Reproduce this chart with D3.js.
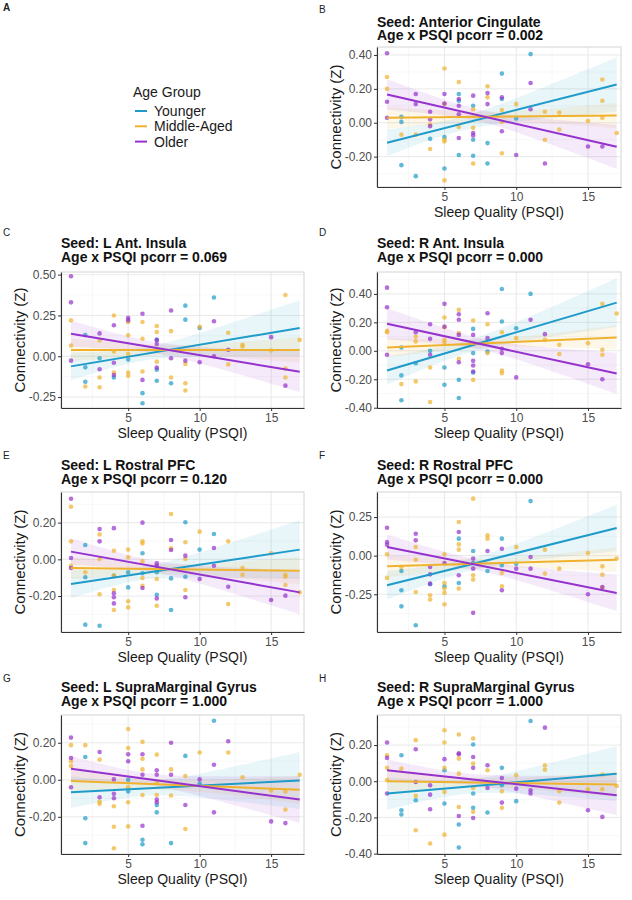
<!DOCTYPE html>
<html>
<head>
<meta charset="utf-8">
<script src="https://cdn.jsdelivr.net/npm/d3@7"></script>
<style>
body { margin: 0; background: #fff; }
svg { display: block; font-family: "Liberation Sans", Arial, sans-serif; }
</style>
</head>
<body>
<script>
var groups = ["Younger", "Middle-Aged", "Older"];
var groupColors = ["#1e9bc9", "#efb22e", "#9531cc"];
var xTicks = [5, 10, 15];
var xDomain = [0.3, 17.3];

// B: Anterior Cingulate
var bYounger = [[2,0.035],[2,0.005],[2,-0.25],[3,-0.315],[4,-0.095],[5,-0.085],[5,-0.27],[6,0.17],[6,0.13],[6,-0.19],[7,0.10],[7,-0.10],[7,-0.195],[8,-0.12],[8,-0.24],[9,0.29],[9,0.14],[10,0.025],[11,0.405]];
var bMiddle = [[1,0.27],[1,0.20],[2,-0.07],[3,-0.07],[4,-0.155],[4,-0.01],[5,0.32],[5,0.11],[5,-0.10],[5,-0.11],[5,-0.34],[6,0.24],[6,-0.025],[7,-0.03],[7,-0.24],[7,0.08],[8,0.215],[8,0.15],[9,0.075],[9,0.005],[9,-0.18],[10,0.11],[12,0.065],[12,-0.10],[13,0.06],[13,-0.04],[15,0.01],[16,0.255],[16,0.13],[16,0.03],[17,-0.06]];
var bOlder = [[1,0.41],[1,0.124],[1,0.03],[3,0.17],[3,0.11],[4,0.065],[4,0.02],[4,-0.02],[5,0.17],[5,0.114],[6,0.14],[6,0.1],[6,0.05],[6,-0.09],[7,0.16],[7,-0.06],[7,-0.075],[8,0.11],[8,0.175],[9,0.15],[9,-0.05],[10,-0.19],[11,0.235],[11,0.08],[12,-0.24],[15,-0.14],[16,-0.14]];
var bFit = [[-0.118,0.226],[0.03,0.043],[0.167,-0.142]];
var bBand = [[0.079,0.16,0.04],[0.065,0.075,0.03],[0.09,0.13,0.035]];
var bTicks = [-0.2,0,0.2,0.4];

// C: L Ant. Insula
var cYounger = [[2,0.13],[2,-0.068],[2,-0.156],[3,-0.012],[4,-0.13],[5,-0.02],[6,-0.226],[6,-0.288],[7,0.10],[7,-0.082],[7,-0.15],[8,-0.165],[9,0.31],[9,0.224],[10,0.173],[11,0.36]];
var cMiddle = [[1,0.22],[1,0.066],[2,-0.185],[3,0.097],[3,-0.13],[3,-0.19],[4,0.25],[4,0.029],[4,-0.1],[5,0.21],[5,0.128],[5,0.014],[5,-0.1],[5,-0.12],[6,0.21],[6,0.107],[6,-0.093],[7,0.185],[7,0.148],[7,-0.033],[8,0.154],[8,-0.13],[9,-0.047],[9,-0.165],[9,-0.21],[10,0.18],[12,0.144],[12,-0.05],[13,0.07],[13,0.06],[15,0.035],[16,0.375],[16,-0.075],[16,-0.13],[17,0.1]];
var cOlder = [[1,0.49],[1,0.33],[1,-0.027],[3,0.14],[3,-0.08],[4,0.19],[4,-0.04],[4,-0.115],[5,0.235],[5,0.22],[6,0.26],[6,-0.145],[7,0.1],[7,0.075],[7,-0.07],[8,0.28],[8,-0.012],[9,-0.027],[10,-0.037],[11,0.214],[11,0.0],[12,0.04],[15,0.117],[16,-0.18]];
var cFit = [[-0.062,0.173],[0.039,0.039],[0.138,-0.095]];
var cBand = [[0.085,0.17,0.04],[0.07,0.08,0.03],[0.08,0.125,0.035]];
var cTicks = [-0.25,0,0.25,0.5];

// D: R Ant. Insula
var dYounger = [[2,0.023],[2,-0.173],[2,-0.348],[3,-0.087],[4,0.0],[5,-0.117],[5,-0.239],[6,-0.204],[6,-0.332],[7,0.154],[7,-0.016],[7,-0.152],[8,-0.005],[9,0.435],[9,0.206],[10,0.159],[11,0.40]];
var dMiddle = [[1,0.14],[1,0.13],[2,-0.234],[3,0.10],[3,0.066],[3,-0.215],[4,-0.117],[4,-0.36],[5,0.234],[5,0.166],[5,0.077],[5,0.058],[6,0.288],[6,0.124],[6,-0.056],[7,0.213],[7,-0.204],[8,0.187],[8,-0.016],[9,0.131],[9,-0.138],[9,-0.157],[10,0.089],[12,0.077],[13,0.042],[13,-0.023],[15,0.054],[16,0.33],[16,0.007],[16,-0.028],[17,0.262]];
var dOlder = [[1,0.444],[1,0.306],[1,-0.028],[3,0.13],[4,0.187],[4,0.084],[4,-0.028],[5,0.33],[5,0.17],[6,0.257],[6,0.218],[6,0.112],[6,-0.08],[7,0.112],[7,-0.07],[7,-0.103],[7,-0.145],[8,0.264],[8,0.089],[9,0.014],[9,-0.016],[10,-0.187],[11,0.218],[12,0.117],[15,-0.094],[16,-0.2]];
var dFit = [[-0.138,0.339],[0.023,0.094],[0.19,-0.159]];
var dBand = [[0.1,0.172,0.045],[0.07,0.085,0.03],[0.11,0.146,0.04]];
var dTicks = [-0.4,-0.2,0,0.2,0.4];

// E: L Rostral PFC
var eYounger = [[2,0.078],[2,-0.098],[2,-0.356],[3,-0.362],[4,-0.09],[5,-0.07],[5,-0.153],[6,0.033],[6,-0.076],[7,-0.07],[7,-0.193],[8,-0.104],[8,-0.276],[9,0.202],[9,-0.095],[10,0.053],[11,0.138]];
var eMiddle = [[1,0.287],[1,0.098],[1,-0.035],[2,-0.07],[3,0.135],[3,0.002],[3,-0.19],[4,0.047],[4,-0.089],[4,-0.167],[4,-0.276],[5,0.053],[5,0.011],[5,-0.229],[5,-0.262],[6,0.098],[6,0.087],[6,-0.011],[6,-0.102],[6,-0.144],[7,-0.107],[7,-0.253],[8,0.247],[8,0.06],[9,0.093],[9,0.002],[9,-0.167],[10,0.151],[12,0.098],[12,-0.244],[13,-0.047],[13,-0.084],[15,0.033],[16,-0.084],[16,-0.095],[16,-0.14],[17,-0.18]];
var eOlder = [[1,0.33],[1,0.007],[1,-0.047],[3,0.165],[3,0.098],[4,0.17],[4,-0.185],[4,-0.207],[4,-0.24],[6,0.2],[6,-0.156],[7,-0.022],[7,-0.035],[7,-0.213],[8,0.105],[8,0.051],[9,0.02],[9,-0.207],[10,-0.107],[11,0.062],[11,-0.035],[12,-0.149],[15,-0.222],[16,-0.198]];
var eFit = [[-0.135,0.053],[-0.047,-0.062],[0.042,-0.18]];
var eBand = [[0.077,0.16,0.035],[0.06,0.075,0.028],[0.072,0.12,0.032]];
var eTicks = [-0.2,0,0.2];

// F: R Rostral PFC
var fYounger = [[2,-0.099],[2,-0.224],[2,-0.328],[3,-0.45],[4,-0.185],[5,-0.198],[6,0.11],[6,-0.177],[7,0.03],[7,-0.047],[8,-0.099],[9,0.11],[9,-0.062],[10,-0.052],[11,0.353]];
var fMiddle = [[1,0.009],[1,-0.144],[2,-0.073],[3,0.056],[3,-0.026],[3,-0.235],[4,-0.256],[4,-0.284],[5,0.009],[5,-0.177],[5,-0.213],[5,-0.241],[5,-0.315],[6,0.218],[6,0.073],[6,0.039],[6,-0.213],[7,0.369],[7,-0.127],[7,-0.155],[8,0.131],[8,0.11],[9,-0.112],[9,-0.198],[10,0.056],[12,0.039],[12,-0.116],[13,-0.084],[15,0.017],[16,-0.069],[16,-0.123],[16,-0.207],[17,-0.019]];
var fOlder = [[1,0.181],[1,0.088],[1,0.071],[3,0.142],[3,0.099],[4,-0.073],[4,-0.121],[4,-0.181],[5,-0.047],[6,0.153],[6,-0.127],[7,-0.019],[7,-0.084],[7,-0.37],[8,0.03],[9,0.045],[9,-0.224],[10,-0.084],[11,-0.009],[11,-0.084],[15,-0.25],[16,-0.203]];
var fFit = [[-0.192,0.179],[-0.069,-0.026],[0.056,-0.241]];
var fBand = [[0.092,0.15,0.04],[0.07,0.08,0.03],[0.081,0.118,0.035]];
var fTicks = [-0.25,0,0.25];

// G: L SupraMarginal Gyrus
var gYounger = [[2,0.123],[2,-0.208],[2,-0.342],[5,0.0],[5,-0.063],[6,-0.324],[6,-0.348],[7,-0.136],[7,-0.176],[8,-0.342],[9,0.129],[10,-0.022],[11,0.319]];
var gMiddle = [[1,0.187],[1,0.1],[1,0.074],[2,0.187],[3,0.109],[3,-0.118],[3,-0.13],[4,-0.143],[4,-0.254],[4,-0.37],[5,0.274],[5,0.172],[5,-0.04],[5,-0.121],[5,-0.252],[6,0.205],[6,0.114],[6,0.056],[6,-0.082],[7,0.136],[7,-0.016],[7,-0.082],[8,0.056],[8,-0.085],[9,0.02],[9,-0.266],[10,0.147],[12,0.147],[13,0.014],[15,-0.058],[16,-0.063],[16,-0.161],[17,0.027]];
var gOlder = [[1,0.228],[1,0.118],[1,-0.04],[3,0.15],[3,-0.094],[4,0.002],[4,-0.076],[4,-0.1],[5,0.138],[5,0.1],[6,0.138],[6,0.027],[6,-0.248],[7,0.051],[7,0.027],[7,-0.107],[7,-0.121],[8,0.2],[8,0.027],[9,-0.136],[10,0.002],[11,0.081],[11,-0.176],[12,0.208],[15,-0.225],[16,-0.234]];
var gFit = [[-0.067,-0.004],[-0.007,-0.054],[0.06,-0.107]];
var gBand = [[0.086,0.154,0.04],[0.06,0.075,0.028],[0.068,0.127,0.032]];
var gTicks = [-0.2,0,0.2];

// H: R SupraMarginal Gyrus
var hYounger = [[2,0.144],[2,-0.16],[2,-0.184],[3,-0.105],[5,0.061],[5,-0.123],[6,-0.239],[6,-0.366],[7,0.203],[7,-0.068],[7,-0.147],[8,-0.173],[9,0.074],[9,-0.022],[10,-0.11],[11,0.333]];
var hMiddle = [[1,0.144],[1,0.074],[1,0.006],[2,0.07],[3,0.227],[3,-0.081],[3,-0.271],[4,-0.344],[5,0.282],[5,0.214],[5,0.074],[5,-0.059],[5,-0.295],[6,0.258],[6,0.125],[6,0.042],[6,-0.142],[7,0.236],[7,0.098],[7,-0.037],[7,-0.169],[8,0.061],[9,-0.055],[9,-0.147],[10,0.033],[12,0.088],[12,0.064],[13,-0.055],[13,-0.118],[15,-0.044],[16,0.037],[16,-0.044],[17,-0.026]];
var hOlder = [[1,0.214],[1,0.129],[1,-0.068],[3,0.177],[3,-0.004],[4,-0.022],[4,-0.074],[4,-0.155],[5,0.122],[6,0.149],[6,0.155],[6,-0.192],[7,0.134],[7,0.074],[7,-0.203],[8,0.088],[8,-0.037],[9,0.018],[9,-0.118],[10,-0.041],[11,-0.05],[11,-0.068],[12,0.296],[15,-0.16],[16,-0.197]];
var hFit = [[-0.068,0.042],[0.0,-0.018],[0.061,-0.077]];
var hBand = [[0.09,0.152,0.04],[0.06,0.07,0.028],[0.06,0.11,0.03]];
var hTicks = [-0.4,-0.2,0,0.2];

var colL = [61, 304], colR = [377, 621];
var rows = [
  {top:47,  bottom:187, letterY:13,  t1:26.5, t2:40},
  {top:272, bottom:408, letterY:236, t1:247.5, t2:261.5},
  {top:492, bottom:632, letterY:459, t1:469.5, t2:483.5},
  {top:715, bottom:854, letterY:682, t1:692,   t2:706}
];

var panels = [
  {letter:"B", seed:"Anterior Cingulate",     p:"0.002", col:colR, row:rows[0], pts:[bYounger,bMiddle,bOlder], fit:bFit, band:bBand, ticks:bTicks, yDom:[-0.379,0.447]},
  {letter:"C", seed:"L Ant. Insula",          p:"0.069", col:colL, row:rows[1], pts:[cYounger,cMiddle,cOlder], fit:cFit, band:cBand, ticks:cTicks, yDom:[-0.317,0.516]},
  {letter:"D", seed:"R Ant. Insula",          p:"0.000", col:colR, row:rows[1], pts:[dYounger,dMiddle,dOlder], fit:dFit, band:dBand, ticks:dTicks, yDom:[-0.402,0.554]},
  {letter:"E", seed:"L Rostral PFC",          p:"0.120", col:colL, row:rows[2], pts:[eYounger,eMiddle,eOlder], fit:eFit, band:eBand, ticks:eTicks, yDom:[-0.396,0.367]},
  {letter:"F", seed:"R Rostral PFC",          p:"0.000", col:colR, row:rows[2], pts:[fYounger,fMiddle,fOlder], fit:fFit, band:fBand, ticks:fTicks, yDom:[-0.494,0.412]},
  {letter:"G", seed:"L SupraMarginal Gyrus",  p:"1.000", col:colL, row:rows[3], pts:[gYounger,gMiddle,gOlder], fit:gFit, band:gBand, ticks:gTicks, yDom:[-0.401,0.35]},
  {letter:"H", seed:"R SupraMarginal Gyrus",  p:"1.000", col:colR, row:rows[3], pts:[hYounger,hMiddle,hOlder], fit:hFit, band:hBand, ticks:hTicks, yDom:[-0.402,0.366]}
];

var svg = d3.select("body").append("svg")
            .attr("width", 632)
            .attr("height", 900);

// confidence band half width, hyperbola through the widths read at x=1, x=17 and the narrowest point
function halfWidth(b, xv) {
  var h1 = b[0], h17 = b[1], hc = b[2];
  var r = Math.sqrt((h1*h1 - hc*hc) / (h17*h17 - hc*hc));
  var xc = (1 + 17*r) / (1 + r);
  var k = (h1*h1 - hc*hc) / ((xc-1)*(xc-1));
  return Math.sqrt(hc*hc + k*(xv-xc)*(xv-xc));
}

// panel A: legend
svg.append("text").attr("x", 3).attr("y", 11)
   .attr("font-size", 10).attr("font-weight", "bold").attr("fill", "#222").text("A");
svg.append("text").attr("x", 133).attr("y", 97)
   .attr("font-size", 14).attr("fill", "#1a1a1a").text("Age Group");
var leg = svg.selectAll("g.legend")
    .data(groups)
    .enter().append("g")
            .attr("class", "legend")
            .attr("transform", function(d,i){return "translate(0," + (116 + i*15.3) + ")";});
leg.append("line")
   .attr("x1", 135).attr("x2", 147).attr("y1", -5).attr("y2", -5)
   .attr("stroke", function(d,i){return groupColors[i];})
   .attr("stroke-width", 2);
leg.append("text")
   .attr("x", 154).attr("y", 0)
   .attr("font-size", 14).attr("fill", "#1a1a1a")
   .text(function(d){return d;});

panels.forEach(function(pn) {
  var top = pn.row.top, bottom = pn.row.bottom;
  var left = pn.col[0], right = pn.col[1];
  var x = d3.scaleLinear().domain(xDomain).range([left, right]);
  var y = d3.scaleLinear().domain(pn.yDom).range([bottom, top]);
  var g = svg.append("g");

  var clipId = "clip" + pn.letter;
  g.append("clipPath").attr("id", clipId)
   .append("rect").attr("x", left).attr("y", top)
   .attr("width", right-left).attr("height", bottom-top);

  // grid
  var xMinor = xTicks.map(function(t){return t - 2.5;}).concat([xTicks[xTicks.length-1] + 2.5])
                     .filter(function(t){return t > xDomain[0] && t < xDomain[1];});
  var step = pn.ticks[1] - pn.ticks[0];
  var yMinor = pn.ticks.map(function(t){return t - step/2;}).concat([pn.ticks[pn.ticks.length-1] + step/2])
                     .filter(function(t){return t > pn.yDom[0] && t < pn.yDom[1];});
  g.selectAll("line.xminor").data(xMinor).enter().append("line")
   .attr("x1", function(d){return x(d);}).attr("x2", function(d){return x(d);})
   .attr("y1", top).attr("y2", bottom)
   .attr("stroke", "#f3f3f3").attr("stroke-width", 0.6);
  g.selectAll("line.yminor").data(yMinor).enter().append("line")
   .attr("x1", left).attr("x2", right)
   .attr("y1", function(d){return y(d);}).attr("y2", function(d){return y(d);})
   .attr("stroke", "#f3f3f3").attr("stroke-width", 0.6);
  g.selectAll("line.xmajor").data(xTicks).enter().append("line")
   .attr("x1", function(d){return x(d);}).attr("x2", function(d){return x(d);})
   .attr("y1", top).attr("y2", bottom)
   .attr("stroke", "#e6e6e6").attr("stroke-width", 0.9);
  g.selectAll("line.ymajor").data(pn.ticks).enter().append("line")
   .attr("x1", left).attr("x2", right)
   .attr("y1", function(d){return y(d);}).attr("y2", function(d){return y(d);})
   .attr("stroke", "#e6e6e6").attr("stroke-width", 0.9);

  var plot = g.append("g").attr("clip-path", "url(#" + clipId + ")");
  var xs = d3.range(1, 17.001, 0.25);

  // ribbons
  pn.fit.forEach(function(f, gi) {
    var line = function(xv){return f[0] + (f[1]-f[0])*(xv-1)/16;};
    var area = d3.area()
        .x(function(d){return x(d);})
        .y0(function(d){return y(line(d) - halfWidth(pn.band[gi], d));})
        .y1(function(d){return y(line(d) + halfWidth(pn.band[gi], d));});
    plot.append("path").datum(xs)
        .attr("d", area)
        .attr("fill", groupColors[gi])
        .attr("fill-opacity", 0.1);
  });

  // points
  pn.pts.forEach(function(arr, gi) {
    plot.selectAll("circle.g" + gi)
        .data(arr)
        .enter().append("circle")
                .attr("class", "g" + gi)
                .attr("cx", function(d){return x(d[0]);})
                .attr("cy", function(d){return y(d[1]);})
                .attr("r", 2.3)
                .attr("fill", groupColors[gi])
                .attr("fill-opacity", 0.7);
  });

  // fitted lines
  pn.fit.forEach(function(f, gi) {
    plot.append("line")
        .attr("x1", x(1)).attr("y1", y(f[0]))
        .attr("x2", x(17)).attr("y2", y(f[1]))
        .attr("stroke", groupColors[gi])
        .attr("stroke-width", 2);
  });

  // border and axes
  g.append("rect").attr("x", left).attr("y", top)
   .attr("width", right-left).attr("height", bottom-top)
   .attr("fill", "none").attr("stroke", "#d4d4d4").attr("stroke-width", 1);

  var xAxis = g.append("g")
      .attr("transform", "translate(0," + bottom + ")")
      .call(d3.axisBottom(x).tickValues(xTicks).tickSize(3).tickPadding(2).tickSizeOuter(0));
  var yAxis = g.append("g")
      .attr("transform", "translate(" + left + ",0)")
      .call(d3.axisLeft(y).tickValues(pn.ticks).tickSize(3).tickPadding(2).tickSizeOuter(0)
              .tickFormat(function(d){return d.toFixed(2);}));
  [xAxis, yAxis].forEach(function(a) {
    a.select(".domain").attr("stroke", "#333").attr("stroke-width", 1.1);
    a.selectAll(".tick line").attr("stroke", "#333");
    a.selectAll(".tick text").attr("fill", "#4d4d4d")
     .attr("font-size", 12).attr("font-family", "Liberation Sans, Arial, sans-serif");
  });

  // titles and labels
  svg.append("text").attr("x", pn.col[0] === 61 ? 3 : 319).attr("y", pn.row.letterY)
     .attr("font-size", 10).attr("fill", "#222").text(pn.letter);
  svg.append("text").attr("x", left).attr("y", pn.row.t1)
     .attr("font-size", 14).attr("font-weight", "bold").attr("fill", "#111")
     .text("Seed: " + pn.seed);
  svg.append("text").attr("x", left).attr("y", pn.row.t2)
     .attr("font-size", 14).attr("font-weight", "bold").attr("fill", "#111")
     .text("Age x PSQI pcorr = " + pn.p);
  svg.append("text")
     .attr("x", (left + right)/2).attr("y", bottom + 30)
     .attr("text-anchor", "middle")
     .attr("font-size", 14).attr("fill", "#1a1a1a")
     .text("Sleep Quality (PSQI)");
  svg.append("text")
     .attr("transform", "translate(" + (left - 36) + "," + ((top + bottom)/2) + ") rotate(-90)")
     .attr("text-anchor", "middle")
     .attr("font-size", 15).attr("fill", "#1a1a1a")
     .text("Connectivity (Z)");
});
</script>
</body>
</html>
